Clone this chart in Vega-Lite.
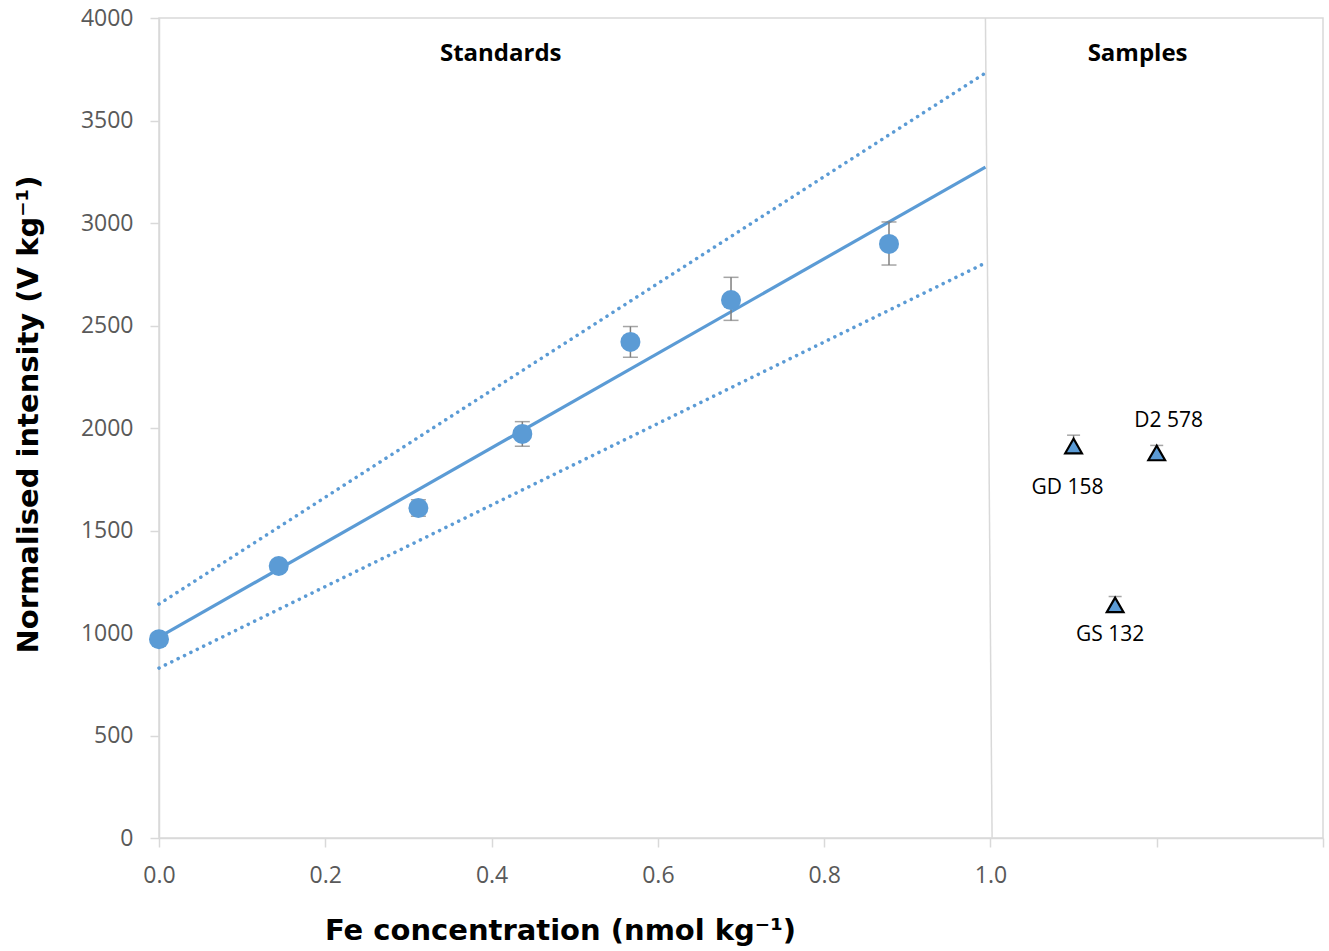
{
  "$schema": "https://vega.github.io/schema/vega-lite/v6.json",
  "width": 1164,
  "height": 820,
  "autosize": {"type": "none"},
  "padding": {"left": 159, "top": 18, "right": 6, "bottom": 113},
  "background": "white",
  "config": {
    "view": {"stroke": "#D9D9D9", "strokeWidth": 1.5},
    "axis": {
      "grid": false,
      "domainColor": "#D9D9D9",
      "domainWidth": 1.5,
      "tickColor": "#D9D9D9",
      "tickWidth": 1.5,
      "tickSize": 9,
      "labelFont": "Open Sans",
      "labelFontSize": 23,
      "labelColor": "#595959",
      "labelFlush": false,
      "labelOverlap": false,
      "titleFont": "DejaVu Sans",
      "titleFontWeight": "bold",
      "titleFontSize": 29,
      "titleColor": "#000000"
    }
  },
  "datasets": {
    "standards": [
      {"x": 0.0, "y": 970, "lo": 965, "hi": 975},
      {"x": 0.144, "y": 1327, "lo": 1322, "hi": 1332},
      {"x": 0.312, "y": 1610, "lo": 1570, "hi": 1650},
      {"x": 0.437, "y": 1971, "lo": 1911, "hi": 2031},
      {"x": 0.567, "y": 2420, "lo": 2345, "hi": 2495},
      {"x": 0.688, "y": 2624, "lo": 2525, "hi": 2735},
      {"x": 0.878, "y": 2898, "lo": 2795, "hi": 3005}
    ],
    "samples": [
      {"sample": "GD 158", "x": 1.1, "y": 1912, "hi": 1965},
      {"sample": "D2 578", "x": 1.2, "y": 1878, "hi": 1915},
      {"sample": "GS 132", "x": 1.15, "y": 1137, "hi": 1178}
    ],
    "fit": [
      {"line": "fit", "x": 0.0, "y": 980},
      {"line": "fit", "x": 0.994, "y": 3273},
      {"line": "upper", "x": 0.0, "y": 1141},
      {"line": "upper", "x": 0.994, "y": 3732},
      {"line": "lower", "x": 0.0, "y": 829},
      {"line": "lower", "x": 0.994, "y": 2805}
    ],
    "divider": [
      {"x": 0.994, "y": 4000, "x2": 1.002, "y2": 0}
    ],
    "sections": [
      {"label": "Standards", "x": 0.411, "y": 3825},
      {"label": "Samples", "x": 1.177, "y": 3825}
    ]
  },
  "encoding": {
    "x": {
      "field": "x",
      "type": "quantitative",
      "scale": {"domain": [0, 1.4], "nice": false, "zero": false},
      "axis": {
        "values": [0, 0.2, 0.4, 0.6, 0.8, 1.0, 1.2, 1.4],
        "labelExpr": "datum.value > 1.01 ? '' : format(datum.value, '.1f')",
        "labelPadding": 17,
        "title": "Fe concentration (nmol kg⁻¹)",
        "titleX": 401,
        "titleY": 92,
        "titleBaseline": "middle",
        "titleAnchor": "middle",
        "titleAlign": "center"
      }
    },
    "y": {
      "field": "y",
      "type": "quantitative",
      "scale": {"domain": [0, 4000], "nice": false},
      "axis": {
        "values": [0, 500, 1000, 1500, 2000, 2500, 3000, 3500, 4000],
        "format": "d",
        "labelPadding": 17,
        "title": "Normalised intensity (V kg⁻¹)",
        "titleX": -131,
        "titleY": 396,
        "titleAngle": -90,
        "titleBaseline": "middle",
        "titleAlign": "center"
      }
    }
  },
  "layer": [
    {
      "data": {"name": "divider"},
      "mark": {"type": "rule", "color": "#D9D9D9", "strokeWidth": 1.5},
      "encoding": {
        "x2": {"field": "x2"},
        "y2": {"field": "y2"}
      }
    },
    {
      "data": {"name": "fit"},
      "transform": [{"filter": "datum.line == 'fit'"}],
      "mark": {"type": "line", "color": "#5B9BD5", "strokeWidth": 3.2},
      "encoding": {}
    },
    {
      "data": {"name": "fit"},
      "transform": [{"filter": "datum.line != 'fit'"}],
      "mark": {"type": "line", "color": "#5B9BD5", "strokeWidth": 3.5, "strokeDash": [0.1, 7], "strokeCap": "round"},
      "encoding": {"detail": {"field": "line"}}
    },
    {
      "data": {"name": "standards"},
      "mark": {"type": "rule", "color": "#7F7F7F", "strokeWidth": 1.5},
      "encoding": {"y": {"field": "lo", "type": "quantitative"}, "y2": {"field": "hi"}}
    },
    {
      "data": {"name": "standards"},
      "mark": {"type": "tick", "orient": "horizontal", "color": "#7F7F7F", "size": 15, "thickness": 1.5},
      "encoding": {"y": {"field": "lo", "type": "quantitative"}}
    },
    {
      "data": {"name": "standards"},
      "mark": {"type": "tick", "orient": "horizontal", "color": "#7F7F7F", "size": 15, "thickness": 1.5},
      "encoding": {"y": {"field": "hi", "type": "quantitative"}}
    },
    {
      "data": {"name": "standards"},
      "mark": {"type": "circle", "color": "#5B9BD5", "opacity": 1, "size": 400}
    },
    {
      "data": {"name": "samples"},
      "mark": {"type": "rule", "color": "#7F7F7F", "strokeWidth": 1.5},
      "encoding": {"y2": {"field": "hi"}}
    },
    {
      "data": {"name": "samples"},
      "mark": {"type": "tick", "orient": "horizontal", "color": "#7F7F7F", "size": 13, "thickness": 1.5},
      "encoding": {"y": {"field": "hi", "type": "quantitative"}}
    },
    {
      "data": {"name": "samples"},
      "mark": {"type": "point", "shape": "triangle-up", "filled": true, "fill": "#5B9BD5", "stroke": "#000000", "strokeWidth": 2.2, "opacity": 1, "size": 280}
    },
    {
      "data": {"name": "samples"},
      "transform": [{"filter": "datum.sample == 'GD 158'"}],
      "mark": {"type": "text", "font": "Open Sans", "fontSize": 21, "color": "#000000", "dx": -6, "dy": 42},
      "encoding": {"text": {"field": "sample"}}
    },
    {
      "data": {"name": "samples"},
      "transform": [{"filter": "datum.sample == 'GS 132'"}],
      "mark": {"type": "text", "font": "Open Sans", "fontSize": 21, "color": "#000000", "dx": -5, "dy": 30},
      "encoding": {"text": {"field": "sample"}}
    },
    {
      "data": {"name": "samples"},
      "transform": [{"filter": "datum.sample == 'D2 578'"}],
      "mark": {"type": "text", "font": "Open Sans", "fontSize": 21, "color": "#000000", "dx": 12, "dy": -32},
      "encoding": {"text": {"field": "sample"}}
    },
    {
      "data": {"name": "sections"},
      "mark": {"type": "text", "font": "Open Sans", "fontSize": 24, "fontWeight": "bold", "color": "#000000"},
      "encoding": {"text": {"field": "label"}}
    }
  ]
}
